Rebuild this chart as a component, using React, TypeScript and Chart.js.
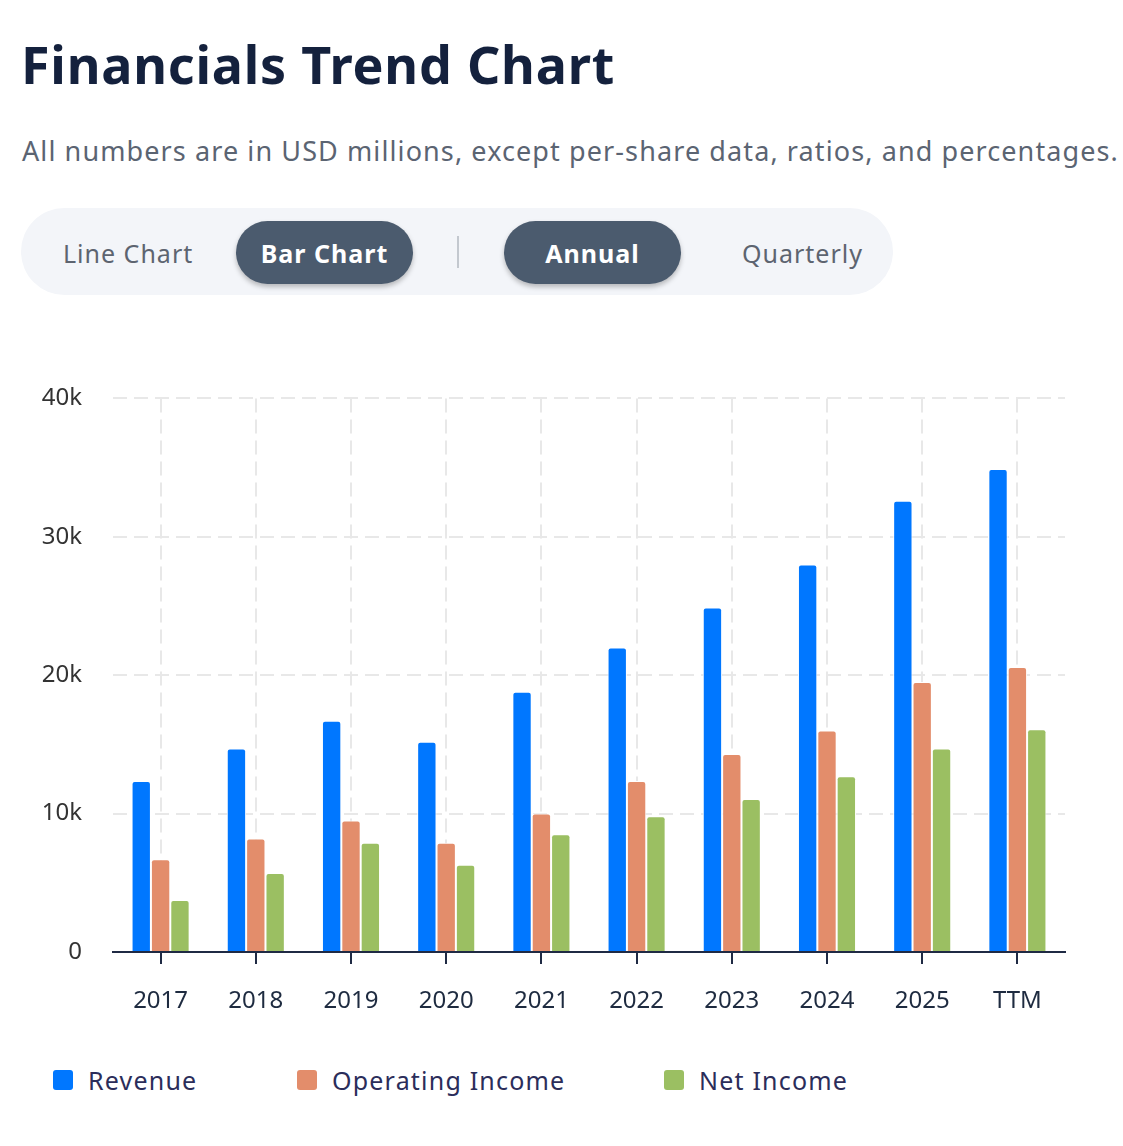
import { useEffect, useRef } from 'react';
import { Chart, registerables } from 'chart.js';

Chart.register(...registerables);

const years = ['2017', '2018', '2019', '2020', '2021', '2022', '2023', '2024', '2025', 'TTM'];
const revenue = [12350, 14700, 16700, 15200, 18800, 22000, 24900, 28000, 32600, 34900];
const operatingIncome = [6700, 8200, 9500, 7900, 10000, 12350, 14300, 16000, 19500, 20600];
const netIncome = [3750, 5700, 7900, 6300, 8500, 9800, 11050, 12700, 14700, 16100];
const yTicks = [0, 10000, 20000, 30000, 40000];

const FONT = '"Noto Sans", sans-serif';
const COLORS = { revenue: '#0077ff', op: '#e38d6b', net: '#9bbf62' };

const legendItems = [
    { label: 'Revenue', color: COLORS.revenue, left: 53 },
    { label: 'Operating Income', color: COLORS.op, left: 297 },
    { label: 'Net Income', color: COLORS.net, left: 664 },
];

const FinancialsChart = () => {
    const canvasRef = useRef<HTMLCanvasElement | null>(null);
    const chartRef = useRef<Chart | null>(null);

    useEffect(() => {
        if (!canvasRef.current) return;
        const ctx = canvasRef.current.getContext('2d');
        if (!ctx) return;

        if (chartRef.current) chartRef.current.destroy();

        const barStyle = {
            borderColor: '#ffffff',
            borderWidth: 1,
            borderRadius: { topLeft: 3, topRight: 3, bottomLeft: 0, bottomRight: 0 },
            borderSkipped: 'bottom' as const,
            categoryPercentage: 0.61,
            barPercentage: 1.0,
        };

        chartRef.current = new Chart(ctx, {
            type: 'bar',
            data: {
                labels: years,
                datasets: [
                    { label: 'Revenue', data: revenue, backgroundColor: COLORS.revenue, ...barStyle },
                    { label: 'Operating Income', data: operatingIncome, backgroundColor: COLORS.op, ...barStyle },
                    { label: 'Net Income', data: netIncome, backgroundColor: COLORS.net, ...barStyle },
                ],
            },
            options: {
                animation: false,
                responsive: false,
                maintainAspectRatio: false,
                layout: { padding: { top: 0, right: 15, left: 0, bottom: 0 } },
                plugins: {
                    legend: { display: false },
                    tooltip: { enabled: false },
                },
                scales: {
                    x: {
                        grid: {
                            offset: false,
                            color: '#e8e8e8',
                            lineWidth: 2,
                            tickColor: '#1f2a44',
                            tickLength: 12,
                            tickWidth: 2,
                        },
                        border: { display: true, color: '#1f2a44', width: 2, dash: [14, 7] },
                        ticks: {
                            color: '#1e2b40',
                            font: { family: FONT, size: 24 },
                            padding: 23,
                        },
                        afterFit: (scale) => {
                            scale.height = 78;
                        },
                    },
                    y: {
                        min: 0,
                        max: 40000,
                        afterBuildTicks: (scale) => {
                            scale.ticks = yTicks.map((v) => ({ value: v }));
                        },
                        grid: {
                            color: '#e8e8e8',
                            lineWidth: 2,
                            drawTicks: false,
                        },
                        border: { display: false, dash: [14, 7] },
                        ticks: {
                            color: '#333333',
                            font: { family: FONT, size: 24 },
                            padding: 31,
                            callback: (v) => (Number(v) === 0 ? '0' : `${Number(v) / 1000}k`),
                        },
                        afterFit: (scale) => {
                            scale.width = 93;
                        },
                    },
                },
            },
        });

        return () => {
            if (chartRef.current) {
                chartRef.current.destroy();
                chartRef.current = null;
            }
        };
    }, []);

    // the y tick padding adds ~45px above the plot, so the canvas starts higher
    return (
        <div style={{ position: 'absolute', left: 20, top: 353, width: 1060, height: 677 }}>
            <canvas ref={canvasRef} width={1060} height={677} style={{ width: 1060, height: 677 }}></canvas>
        </div>
    );
};

export default function App() {
    useEffect(() => {
        document.body.style.margin = '0';
    }, []);

    const pill = {
        position: 'absolute' as const,
        top: 221,
        height: 63,
        borderRadius: 32,
        background: '#4b5b6e',
        color: '#ffffff',
        fontWeight: 700,
        fontSize: 25,
        display: 'flex',
        alignItems: 'center',
        justifyContent: 'center',
        boxShadow: '0 3px 5px rgba(0,0,0,0.25)',
        letterSpacing: 1,
    };
    const plain = {
        position: 'absolute' as const,
        top: 221,
        height: 63,
        display: 'flex',
        alignItems: 'center',
        fontSize: 25,
        color: '#5d6470',
        letterSpacing: 1,
    };

    return (
        <div style={{ position: 'relative', width: 1123, height: 1146, background: '#ffffff', fontFamily: FONT, margin: 0 }}>
            <div style={{ position: 'absolute', left: 21, top: 28, fontSize: 52, fontWeight: 700, color: '#14213d', letterSpacing: 0.8, whiteSpace: 'nowrap' }}>
                Financials Trend Chart
            </div>
            <div style={{ position: 'absolute', left: 22, top: 132, fontSize: 27, color: '#5b6472', letterSpacing: 1.1, whiteSpace: 'nowrap' }}>
                All numbers are in USD millions, except per-share data, ratios, and percentages.
            </div>

            <div style={{ position: 'absolute', left: 21, top: 208, width: 872, height: 87, borderRadius: 44, background: '#f3f5f9' }}></div>
            <div style={{ ...plain, left: 63 }}>Line Chart</div>
            <div style={{ ...pill, left: 236, width: 177 }}>Bar Chart</div>
            <div style={{ position: 'absolute', left: 457, top: 236, width: 2, height: 32, background: '#c3c8cf' }}></div>
            <div style={{ ...pill, left: 504, width: 177 }}>Annual</div>
            <div style={{ ...plain, left: 742 }}>Quarterly</div>

            <FinancialsChart />

            {legendItems.map((item) => (
                <div key={item.label} style={{ position: 'absolute', left: item.left, top: 1064, height: 32, display: 'flex', alignItems: 'center' }}>
                    <span style={{ display: 'inline-block', width: 20, height: 20, borderRadius: 3, background: item.color }}></span>
                    <span style={{ marginLeft: 15, fontSize: 25, color: '#2b2d5a', letterSpacing: 1.2 }}>{item.label}</span>
                </div>
            ))}
        </div>
    );
}
